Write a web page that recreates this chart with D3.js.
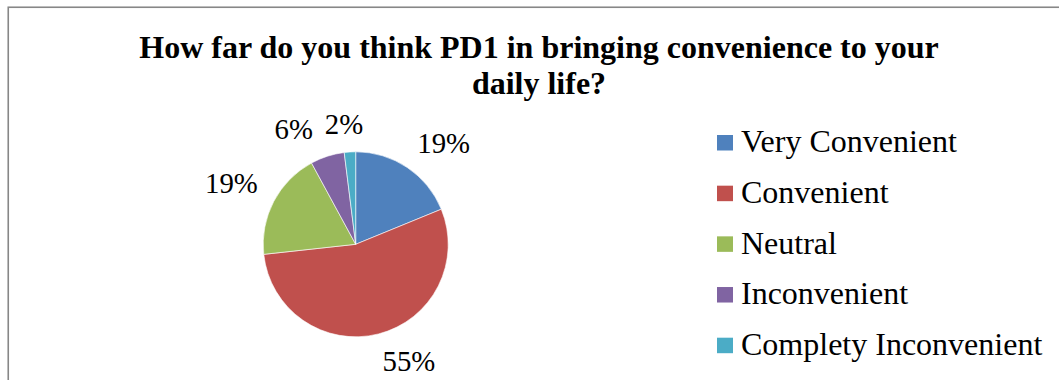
<!DOCTYPE html>
<html>
<head>
<meta charset="utf-8">
<script src="https://cdn.jsdelivr.net/npm/d3@7"></script>
<style>
  html, body { margin: 0; padding: 0; background: #fff; }
  svg { display: block; }
</style>
</head>
<body>
<svg id="chart" width="1059" height="380"></svg>
<script>
// Survey answers and their shares (percent)
const categories = ["Very Convenient", "Convenient", "Neutral", "Inconvenient", "Complety Inconvenient"];
const shares = [19, 55, 19, 6, 2];
const sliceColors = ["#4F81BD", "#C0504D", "#9BBB59", "#8064A2", "#4BACC6"];
const titleLines = ["How far do you think PD1 in bringing convenience to your", "daily life?"];

const W = 1059, H = 380;
const svg = d3.select("#chart");
const serif = "'Liberation Serif', 'Times New Roman', Times, serif";

// Chart frame (runs past the right and bottom edges)
svg.append("rect")
  .attr("x", 8.25).attr("y", 7.25)
  .attr("width", W + 20).attr("height", H + 20)
  .attr("fill", "#fff")
  .attr("stroke", "#878787")
  .attr("stroke-width", 1.6);

// Title
const title = svg.append("text")
  .attr("text-anchor", "middle")
  .attr("font-family", serif)
  .attr("font-weight", "bold")
  .attr("font-size", 32)
  .attr("fill", "#000");
titleLines.forEach((line, i) => {
  title.append("tspan")
    .attr("x", 539)
    .attr("y", 58.3 + i * 36)
    .text(line);
});

// Pie
const cx = 355.7, cy = 244.3, radius = 92.5;
const color = d3.scaleOrdinal().domain(categories).range(sliceColors);
const pie = d3.pie().sort(null).value(d => d.value);
const arcs = pie(categories.map((c, i) => ({ name: c, value: shares[i] })));
const arc = d3.arc().innerRadius(0).outerRadius(radius);

const g = svg.append("g").attr("transform", `translate(${cx},${cy})`);
g.selectAll("path.slice")
  .data(arcs)
  .join("path")
  .attr("class", "slice")
  .attr("d", arc)
  .attr("fill", d => color(d.data.name))
  .attr("stroke", "#fff")
  .attr("stroke-width", 0.6);

// Outside-end data labels: the label box corner nearest the pie sits on
// the slice's mid-angle ray, a little beyond the rim.
const labelFont = 28.8;
const capH = labelFont * 0.68;
const gap = 18;
const minSep = 12;
const clamp = v => Math.max(-1, Math.min(1, v));
const labels = g.selectAll("text.lbl")
  .data(arcs)
  .join("text")
  .attr("class", "lbl")
  .attr("font-family", serif)
  .attr("font-size", labelFont)
  .attr("fill", "#000")
  .attr("text-anchor", "middle")
  .text(d => d.data.value + "%");

const boxes = [];
labels.each(function(d) {
  const w = this.getComputedTextLength();
  const a = (d.startAngle + d.endAngle) / 2;
  const sx = Math.sin(a), sy = -Math.cos(a);
  const px = sx * (radius + gap), py = sy * (radius + gap);
  boxes.push({
    node: this, w,
    x: px + clamp(4 * sx) * w / 2,
    y: py + clamp(4 * sy) * capH / 2
  });
});

// Nudge neighbouring labels apart sideways when they share a row
for (let i = boxes.length - 1; i > 0; i--) {
  const a = boxes[i], b = boxes[i - 1];
  if (Math.abs(a.y - b.y) < capH) {
    const left = a.x < b.x ? a : b, right = a.x < b.x ? b : a;
    const overlap = (left.x + left.w / 2 + minSep) - (right.x - right.w / 2);
    if (overlap > 0) left.x -= overlap;
  }
}
boxes.forEach(b => d3.select(b.node).attr("x", b.x).attr("y", b.y + capH / 2));

// Legend
const legendY = d3.scalePoint().domain(categories).range([152.3, 355]);
const legend = svg.append("g");
const items = legend.selectAll("g.item")
  .data(categories)
  .join("g")
  .attr("class", "item")
  .attr("transform", d => `translate(0,${legendY(d)})`);
items.append("rect")
  .attr("x", 717).attr("y", -17.3)
  .attr("width", 16).attr("height", 15.5)
  .attr("fill", d => color(d));
items.append("text")
  .attr("x", 741).attr("y", 0)
  .attr("font-family", serif)
  .attr("font-size", 32)
  .attr("fill", "#000")
  .text(d => d);
</script>
</body>
</html>
